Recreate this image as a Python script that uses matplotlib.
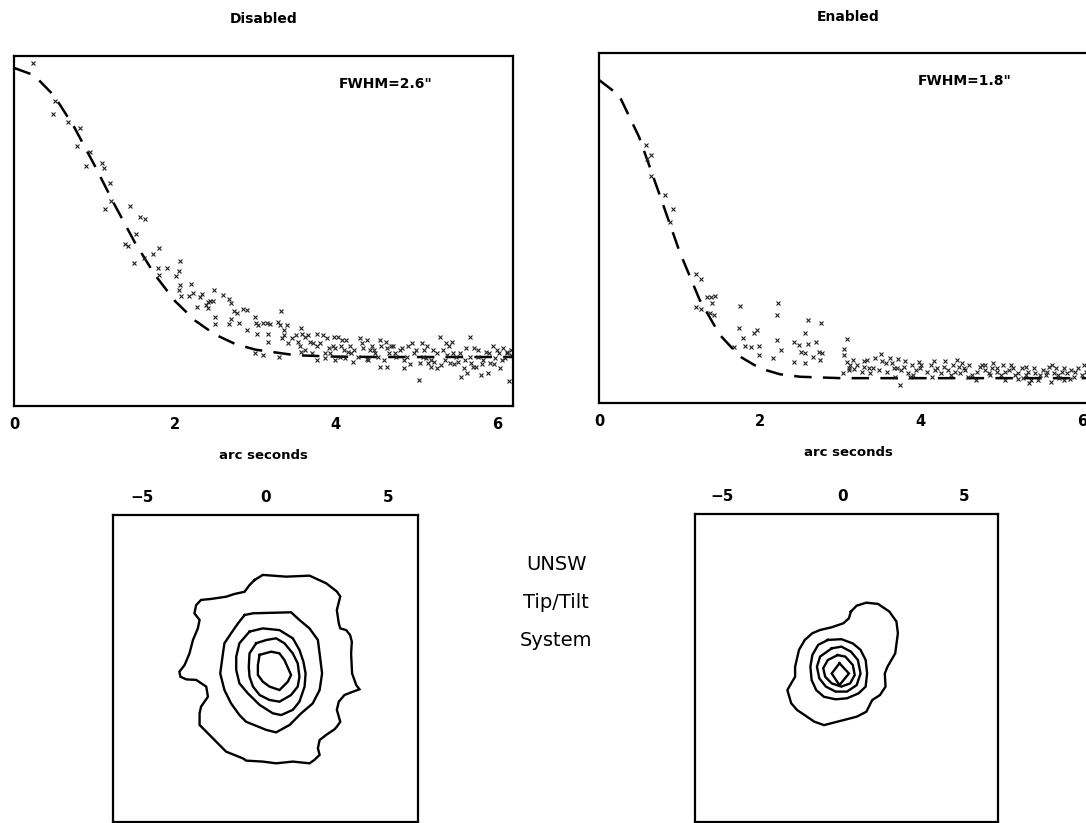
"""
plot.py
Radial profiles and contour maps, tip/tilt disabled vs enabled.
"""
# Imports
import numpy as np
import matplotlib
matplotlib.use('Agg')
import matplotlib.pyplot as plt

# Data - radial profiles (y in fraction of the plot height)
fit_x_dis = [0, 0.25, 0.5, 0.75, 1.0, 1.25, 1.5, 1.75, 2.0, 2.25, 2.5, 2.75,
             3.0, 3.5, 4.0, 4.5, 5.0, 5.5, 6.0, 6.3]
fit_y_dis = [0.966, 0.945, 0.886, 0.796, 0.688, 0.575, 0.468, 0.375, 0.300,
             0.244, 0.204, 0.177, 0.161, 0.145, 0.141, 0.140, 0.140, 0.140,
             0.140, 0.140]

fit_x_en = [0, 0.25, 0.5, 0.75, 1.0, 1.25, 1.5, 1.75, 2.0, 2.25, 2.5, 3.0,
            3.5, 4.0, 4.5, 5.0, 5.5, 6.0, 6.3]
fit_y_en = [0.923, 0.879, 0.759, 0.597, 0.433, 0.295, 0.195, 0.133, 0.099,
            0.082, 0.075, 0.071, 0.071, 0.071, 0.071, 0.071, 0.071, 0.071,
            0.071]

pts_x_dis = [0.23, 0.51, 0.48, 0.67, 0.82, 0.78, 0.94, 0.89, 1.09, 1.12, 1.19,
             1.21, 1.13, 1.44, 1.56, 1.63, 1.51, 1.38, 1.42, 1.62, 1.49, 1.73,
             1.80, 1.79, 1.80, 1.90, 2.06, 2.05, 2.01, 2.06, 2.20, 2.05, 2.08,
             2.17, 2.23, 2.34, 2.31, 2.48, 2.41, 2.44, 2.47, 2.38, 2.27, 2.41,
             2.60, 2.67, 2.69, 2.50, 2.50, 2.73, 2.77, 2.84, 2.89, 2.70, 2.67,
             2.79, 3.00, 2.90, 3.01, 3.03, 3.09, 3.14, 3.18, 3.02, 3.16, 3.16,
             3.28, 3.32, 3.30, 3.35, 3.36, 3.33, 3.39, 3.00, 3.09, 3.29, 3.46,
             3.50, 3.57, 3.58, 3.61, 3.65, 3.53, 3.57, 3.68, 3.72, 3.76, 3.77,
             3.84, 3.89, 3.76, 3.87, 3.91, 3.96, 3.98, 4.02, 3.99, 4.06, 3.87,
             3.99, 4.08, 4.13, 4.15, 4.19, 4.11, 4.23, 4.21, 4.30, 4.34, 4.39,
             4.42, 4.38, 4.45, 4.49, 4.55, 4.56, 4.55, 4.62, 4.64, 4.66, 4.64,
             4.71, 4.73, 4.82, 4.85, 4.84, 4.88, 4.90, 4.94, 4.97, 5.03, 5.05,
             5.07, 5.10, 5.12, 5.15, 5.18, 5.20, 5.22, 5.25, 5.29, 5.30, 5.33,
             5.37, 5.38, 5.42, 5.44, 5.46, 5.49, 5.52, 5.55, 5.59, 5.61, 5.63,
             5.67, 5.68, 5.72, 5.74, 5.77, 5.80, 5.83, 5.87, 5.89, 5.92, 5.95,
             5.98, 6.02, 6.04, 6.07, 6.10, 6.13, 6.15, 6.17,
             3.40, 3.55, 3.62, 3.70, 3.80, 3.93, 4.05, 4.10, 4.18, 4.27, 4.32,
             4.40, 4.47, 4.52, 4.60, 4.68, 4.75, 4.80, 4.92, 5.00, 5.08, 5.13,
             5.18, 5.26, 5.35, 5.40, 5.47, 5.54, 5.60, 5.66, 5.70, 5.76, 5.82,
             5.90, 5.96, 6.00, 6.06, 6.12, 6.18]
pts_y_dis = [0.979, 0.871, 0.833, 0.810, 0.793, 0.744, 0.727, 0.687, 0.695,
             0.679, 0.638, 0.586, 0.562, 0.571, 0.541, 0.533, 0.490, 0.462,
             0.457, 0.422, 0.408, 0.434, 0.450, 0.393, 0.374, 0.395, 0.414,
             0.387, 0.370, 0.346, 0.349, 0.331, 0.315, 0.314, 0.322, 0.320,
             0.310, 0.330, 0.298, 0.299, 0.300, 0.289, 0.284, 0.279, 0.317,
             0.305, 0.295, 0.255, 0.234, 0.271, 0.265, 0.276, 0.273, 0.248,
             0.234, 0.236, 0.255, 0.217, 0.236, 0.231, 0.238, 0.236, 0.234,
             0.207, 0.207, 0.184, 0.241, 0.270, 0.231, 0.217, 0.203, 0.193,
             0.231, 0.152, 0.146, 0.139, 0.193, 0.203, 0.222, 0.207, 0.198,
             0.203, 0.184, 0.155, 0.184, 0.179, 0.170, 0.207, 0.203, 0.193,
             0.130, 0.150, 0.165, 0.170, 0.198, 0.198, 0.165, 0.170, 0.136,
             0.130, 0.189, 0.189, 0.155, 0.150, 0.136, 0.160, 0.127, 0.193,
             0.165, 0.189, 0.160, 0.133, 0.170, 0.150, 0.189, 0.170, 0.110,
             0.184, 0.165, 0.150, 0.110, 0.170, 0.150, 0.165, 0.131, 0.108,
             0.140, 0.170, 0.179, 0.150, 0.074, 0.122, 0.179, 0.160, 0.136,
             0.122, 0.112, 0.160, 0.127, 0.108, 0.198, 0.117, 0.160, 0.179,
             0.146, 0.122, 0.184, 0.150, 0.140, 0.127, 0.084, 0.108, 0.165,
             0.093, 0.198, 0.122, 0.165, 0.112, 0.140, 0.089, 0.131, 0.155,
             0.093, 0.122, 0.170, 0.136, 0.150, 0.108, 0.165, 0.136, 0.155,
             0.070, 0.146,
             0.18, 0.17, 0.16, 0.15, 0.18, 0.15, 0.14, 0.16, 0.17, 0.14, 0.18,
             0.13, 0.16, 0.14, 0.13, 0.17, 0.14, 0.16, 0.12, 0.16, 0.14, 0.17,
             0.13, 0.15, 0.13, 0.17, 0.12, 0.15, 0.13, 0.14, 0.11, 0.16, 0.12,
             0.15, 0.12, 0.16, 0.13, 0.15, 0.16]

pts_x_en = [0.58, 0.64, 0.60, 0.64, 0.82, 0.92, 0.88, 1.21, 1.27, 1.34, 1.39,
            1.44, 1.40, 1.21, 1.27, 1.38, 1.43, 1.75, 2.23, 2.21, 1.74, 1.79,
            1.82, 1.89, 1.93, 1.96, 1.99, 1.99, 2.16, 2.21, 2.26, 2.42, 2.49,
            2.51, 2.56, 2.60, 2.60, 2.42, 2.56, 2.56, 2.69, 2.76, 2.66, 2.73,
            2.77, 2.75, 1.68, 3.04, 3.08, 3.05, 3.08, 3.12, 3.16, 3.03, 3.11,
            3.17, 3.29, 3.33, 3.29, 3.36, 3.27, 3.37, 3.43, 3.50, 3.48, 3.56,
            3.61, 3.64, 3.67, 3.71, 3.68, 3.74, 3.75, 3.79, 3.84, 3.89, 3.94,
            3.97, 3.99, 3.86, 4.12, 4.16, 4.18, 4.14, 4.25, 4.29, 4.34, 4.37,
            4.40, 4.45, 4.47, 4.49, 4.51, 4.55, 4.58, 4.64, 4.68, 4.73, 4.76,
            4.79, 4.84, 4.88, 4.90, 4.94, 4.99, 5.02, 5.05, 5.10, 5.14, 5.17,
            5.21, 5.27, 5.30, 5.31, 5.34, 5.37, 5.42, 5.46, 5.52, 5.55, 5.59,
            5.62, 5.65, 5.68, 5.72, 5.75, 5.78, 5.81, 5.86, 5.90, 5.92, 6.05,
            6.07, 6.10,
            3.10, 3.20, 3.40, 3.52, 3.58, 3.70, 3.80, 3.90, 4.00, 4.08, 4.20,
            4.30, 4.42, 4.53, 4.60, 4.70, 4.80, 4.86, 4.95, 5.04, 5.12, 5.20,
            5.25, 5.33, 5.40, 5.48, 5.57, 5.63, 5.70, 5.78, 5.85, 5.95, 6.00,
            6.02]
pts_y_en = [0.737, 0.709, 0.696, 0.649, 0.594, 0.553, 0.518, 0.369, 0.353,
            0.304, 0.302, 0.306, 0.285, 0.275, 0.268, 0.258, 0.251, 0.277,
            0.285, 0.251, 0.213, 0.185, 0.163, 0.161, 0.199, 0.210, 0.163,
            0.137, 0.130, 0.180, 0.151, 0.175, 0.166, 0.147, 0.199, 0.237,
            0.169, 0.118, 0.113, 0.142, 0.175, 0.228, 0.132, 0.147, 0.142,
            0.123, 0.161, 0.153, 0.182, 0.137, 0.118, 0.109, 0.123, 0.087,
            0.094, 0.096, 0.121, 0.123, 0.104, 0.099, 0.090, 0.085, 0.128,
            0.140, 0.094, 0.113, 0.128, 0.113, 0.099, 0.125, 0.075, 0.051,
            0.094, 0.104, 0.085, 0.109, 0.094, 0.118, 0.099, 0.075, 0.109,
            0.121, 0.094, 0.075, 0.085, 0.104, 0.094, 0.080, 0.109, 0.123,
            0.104, 0.085, 0.113, 0.094, 0.075, 0.080, 0.066, 0.104, 0.109,
            0.094, 0.085, 0.099, 0.113, 0.090, 0.080, 0.109, 0.066, 0.094,
            0.099, 0.080, 0.085, 0.071, 0.104, 0.080, 0.056, 0.066, 0.085,
            0.066, 0.094, 0.080, 0.104, 0.061, 0.085, 0.099, 0.071, 0.090,
            0.066, 0.085, 0.094, 0.075, 0.090, 0.090, 0.075, 0.104,
            0.10, 0.11, 0.10, 0.12, 0.09, 0.10, 0.12, 0.08, 0.11, 0.09, 0.10,
            0.12, 0.09, 0.10, 0.11, 0.09, 0.11, 0.08, 0.10, 0.09, 0.11, 0.07,
            0.10, 0.09, 0.10, 0.08, 0.09, 0.11, 0.08, 0.10, 0.07, 0.10, 0.08,
            0.11]

# Data - contour levels (arc seconds), outermost first
contours_dis = [
    [(-0.45, 3.57), (-0.11, 3.78), (0.84, 3.71), (1.79, 3.75), (2.47, 3.44),
     (2.90, 3.11), (3.04, 2.91), (2.90, 2.36), (2.98, 1.82), (3.04, 1.62),
     (3.28, 1.55), (3.44, 1.35), (3.51, 1.08), (3.48, 0.61), (3.52, -0.20),
     (3.69, -0.67), (3.82, -0.84), (3.55, -0.94), (3.21, -1.07),
     (2.98, -1.34), (2.90, -1.67), (3.04, -2.15), (2.90, -2.35),
     (2.80, -2.46), (2.47, -2.68), (2.20, -2.89), (2.13, -3.22),
     (2.20, -3.49), (1.99, -3.69), (1.79, -3.83), (1.11, -3.76),
     (0.43, -3.83), (-0.11, -3.76), (-0.79, -3.72), (-0.92, -3.63),
     (-1.60, -3.36), (-1.87, -3.09), (-2.07, -2.89), (-2.41, -2.55),
     (-2.68, -2.28), (-2.68, -1.81), (-2.62, -1.54), (-2.34, -1.14),
     (-2.41, -0.73), (-2.82, -0.46), (-3.22, -0.44), (-3.46, -0.33),
     (-3.50, -0.13), (-3.29, 0.14), (-3.09, 0.61), (-2.95, 1.15),
     (-2.75, 1.62), (-2.68, 1.96), (-2.89, 2.23), (-2.82, 2.56),
     (-2.62, 2.77), (-2.21, 2.81), (-1.60, 2.90), (-1.26, 3.01),
     (-0.85, 3.10), (-0.65, 3.37)],
    [(-0.85, 2.16), (-0.51, 2.23), (1.04, 2.27), (1.38, 1.96), (1.79, 1.62),
     (2.13, 1.15), (2.20, 0.61), (2.30, -0.20), (2.20, -0.87), (1.92, -1.41),
     (1.45, -1.81), (0.98, -2.28), (0.43, -2.58), (0.03, -2.48),
     (-0.79, -2.15), (-1.06, -1.88), (-1.40, -1.41), (-1.67, -0.87),
     (-1.84, -0.20), (-1.73, 0.61), (-1.67, 1.02), (-1.40, 1.42),
     (-1.12, 1.82)],
    [(-0.65, 1.49), (-0.11, 1.62), (0.57, 1.55), (1.11, 1.22), (1.38, 0.75),
     (1.54, 0.28), (1.63, -0.20), (1.59, -0.73), (1.38, -1.34), (1.11, -1.67),
     (0.64, -1.88), (0.30, -1.81), (-0.24, -1.47), (-0.72, -1.00),
     (-1.06, -0.60), (-1.19, -0.06), (-1.19, 0.48), (-1.06, 1.02)],
    [(-0.38, 1.02), (0.03, 1.15), (0.43, 1.22), (0.77, 1.02), (1.11, 0.61),
     (1.31, 0.21), (1.38, -0.33), (1.31, -0.73), (1.04, -1.07), (0.57, -1.34),
     (0.16, -1.27), (-0.24, -1.07), (-0.51, -0.73), (-0.65, -0.33),
     (-0.68, 0.07), (-0.65, 0.61)],
    [(-0.24, 0.55), (0.23, 0.68), (0.57, 0.61), (0.77, 0.34), (1.04, -0.26),
     (0.91, -0.53), (0.57, -0.87), (0.16, -0.73), (-0.11, -0.53),
     (-0.31, -0.26), (-0.31, 0.14)],
]

contours_en = [
    [(0.33, 2.27), (0.57, 2.51), (0.97, 2.63), (1.45, 2.58), (1.92, 2.27),
     (2.21, 1.87), (2.27, 1.40), (2.16, 0.59), (1.84, 0.05), (1.73, -0.22),
     (1.76, -0.75), (1.53, -1.09), (1.21, -1.29), (0.97, -1.76),
     (0.57, -1.96), (0.02, -2.10), (-0.78, -2.30), (-1.18, -2.16),
     (-1.57, -1.90), (-1.89, -1.69), (-2.13, -1.42), (-2.29, -0.89),
     (-2.21, -0.75), (-1.97, -0.35), (-1.97, 0.05), (-1.81, 0.73),
     (-1.57, 1.13), (-1.26, 1.40), (-0.94, 1.53), (-0.46, 1.64),
     (0.02, 1.80), (0.25, 2.00)],
    [(-0.62, 1.13), (-0.06, 1.16), (0.41, 0.99), (0.73, 0.73), (0.94, 0.32),
     (1.00, -0.22), (0.94, -0.75), (0.65, -1.02), (0.17, -1.22),
     (-0.30, -1.26), (-0.78, -1.16), (-1.10, -0.89), (-1.29, -0.48),
     (-1.34, 0.05), (-1.26, 0.52), (-1.02, 0.93)],
    [(-0.46, 0.79), (-0.06, 0.86), (0.33, 0.66), (0.62, 0.32), (0.73, -0.22),
     (0.57, -0.69), (0.17, -0.95), (-0.30, -0.95), (-0.70, -0.75),
     (-0.97, -0.42), (-1.07, 0.05), (-0.94, 0.46)],
    [(-0.22, 0.52), (0.10, 0.46), (0.41, 0.12), (0.49, -0.28), (0.30, -0.62),
     (-0.06, -0.75), (-0.46, -0.62), (-0.73, -0.35), (-0.81, -0.01),
     (-0.62, 0.32)],
    [(-0.14, 0.19), (0.25, -0.22), (-0.14, -0.69), (-0.46, -0.22)],
]

titles = ['Disabled', 'Enabled']
fwhm_labels = ['FWHM=2.6"', 'FWHM=1.8"']
profile_ticks = [0, 2, 4, 6]
map_ticks = [-5, 0, 5]
side_text = ['UNSW', 'Tip/Tilt', 'System']

# Figure set-up
W, H = 1086, 823
plt.rcParams['font.family'] = ['DejaVu Sans']
fig = plt.figure(figsize=(W / 100, H / 100), dpi=100)


def px_axes(left, top, right, bottom):
    """
    Add axes from pixel edges (measured from top-left).
    """
    return fig.add_axes([left / W, 1 - bottom / H,
                         (right - left) / W, (bottom - top) / H])


def style_box(ax):
    for s in ax.spines.values():
        s.set_linewidth(1.6)
    ax.set_yticks([])
    ax.tick_params(length=0, labelsize=10.5, pad=8)
    for lbl in ax.get_xticklabels():
        lbl.set_fontweight('bold')


# Profiles
prof_axes = [px_axes(14, 56, 513, 406), px_axes(599, 53, 1098, 403)]
fits = [(fit_x_dis, fit_y_dis), (fit_x_en, fit_y_en)]
pts = [(pts_x_dis, pts_y_dis), (pts_x_en, pts_y_en)]
title_pads = [24, 23]
fwhm_x = [0.651, 0.639]
for i, ax in enumerate(prof_axes):
    ax.plot(fits[i][0], fits[i][1], color='black', lw=1.8,
            dashes=(7, 4.5))
    ax.plot(pts[i][0], pts[i][1], 'x', color='#222222', ms=3, mew=0.8)
    ax.set_xlim(0, 6.2)
    ax.set_ylim(0, 1)
    ax.set_xticks(profile_ticks)
    style_box(ax)
    ax.set_xlabel('arc seconds', fontsize=9.5, fontweight='bold',
                  labelpad=12)
    ax.set_title(titles[i], fontsize=10, fontweight='bold',
                 pad=title_pads[i])
    ax.text(fwhm_x[i], 0.92, fwhm_labels[i], transform=ax.transAxes,
            fontsize=10, fontweight='bold', va='center', ha='left')

# Contour maps
map_axes = [px_axes(113, 515, 418, 822), px_axes(695, 514, 998, 822)]
map_lims = [(-6.2, 6.2), (-6.1, 6.4)]
for ax, levels, lim in zip(map_axes, [contours_dis, contours_en], map_lims):
    for c in levels:
        xs = [p[0] for p in c] + [c[0][0]]
        ys = [p[1] for p in c] + [c[0][1]]
        ax.plot(xs, ys, color='black', lw=1.7, solid_joinstyle='miter')
    ax.set_xlim(*lim)
    ax.set_ylim(-6.2, 6.2)
    ax.set_xticks(map_ticks)
    ax.xaxis.tick_top()
    style_box(ax)
    ax.tick_params(labelsize=11, pad=7)
    ax.set_xticklabels(['\u22125', '0', '5'], fontweight='bold')

for k, s in enumerate(side_text):
    fig.text(556 / W, 1 - (565 + 37.5 * k) / H, s, fontsize=14,
             ha='center', va='center')

fig.savefig('out.png', dpi=100)
